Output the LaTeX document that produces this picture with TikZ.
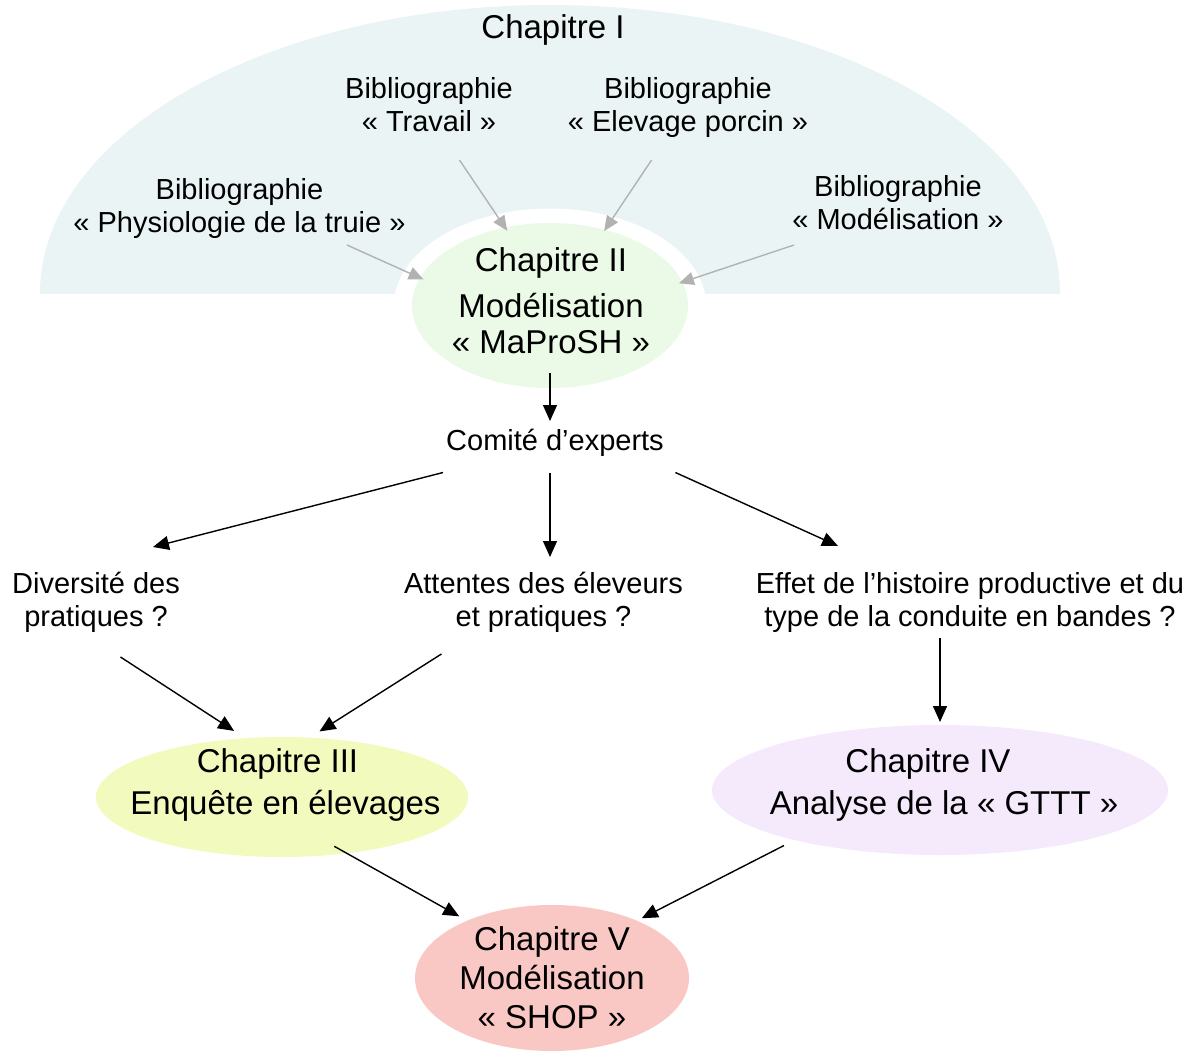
\documentclass[tikz,border=0pt]{standalone}
\usepackage{fontspec}
\setmainfont{Liberation Sans}
\usetikzlibrary{shapes.geometric,arrows.meta}
\definecolor{bgblue}{RGB}{234,244,245}
\definecolor{chgreen}{RGB}{235,250,231}
\definecolor{chyellow}{RGB}{242,250,190}
\definecolor{chpurple}{RGB}{244,234,251}
\definecolor{chpink}{RGB}{250,200,196}
\definecolor{arrowgray}{RGB}{178,178,178}
\tikzset{
  smalltxt/.style={font=\fontsize{29}{33}\selectfont, align=center, inner sep=0pt, outer sep=0pt},
  bigtxt/.style={font=\fontsize{33}{42}\selectfont, align=center, inner sep=0pt, outer sep=0pt},
  chap/.style={ellipse, inner sep=0pt, outer sep=0pt, draw=none},
  garrow/.style={draw=arrowgray, line width=1.4pt, -{Triangle[length=15pt,width=13pt]}},
  barrow/.style={draw=black, line width=1.4pt, -{Triangle[length=16pt,width=14pt]}},
}
\begin{document}
\begin{tikzpicture}[x=1pt,y=-1pt]
\useasboundingbox (0,0) rectangle (1196,1052);
% Chapitre I background
\begin{scope}
  \clip (0,0) rectangle (1196,293);
  \fill[bgblue] (550,293) ellipse [x radius=510, y radius=288];
\end{scope}
\fill[white] (550,305.5) ellipse [x radius=156, y radius=97];
% chapter ellipses
\node[chap, fill=chgreen, minimum width=276pt, minimum height=165pt] (chII) at (550,305.5) {};
\node[chap, fill=chyellow, minimum width=372pt, minimum height=120pt] (chIII) at (282,797) {};
\node[chap, fill=chpurple, minimum width=456pt, minimum height=130pt] (chIV) at (940,790) {};
\node[chap, fill=chpink, minimum width=274pt, minimum height=146pt] (chV) at (552,978) {};
% chapter texts
\node[bigtxt, anchor=base] (chIt) at (553,38) {Chapitre I};
\node[bigtxt, font=\fontsize{33}{36}\selectfont] (chIIt) at (551,301) {Chapitre II\\[10pt]Modélisation\\«~MaProSH~»};
\node[bigtxt] (chIIIt) at (285.5,785) {Chapitre III\hspace*{16pt}\\Enquête en élevages};
\node[bigtxt] (chIVt) at (944,784.5) {Chapitre IV\hspace*{32pt}\\Analyse de la «~GTTT~»};
\node[bigtxt, font=\fontsize{33}{39}\selectfont] (chVt) at (552,977.5) {Chapitre V\\Modélisation\\«~SHOP~»};
% bibliography texts
\node[smalltxt, minimum height=74pt] (bibPhys) at (239.5,208) {Bibliographie\\«~Physiologie de la truie~»};
\node[smalltxt, minimum height=110pt] (bibTrav) at (429,105) {Bibliographie\\«~Travail~»};
\node[smalltxt, minimum height=104pt] (bibElev) at (688,108) {Bibliographie\\«~Elevage porcin~»};
\node[smalltxt, minimum height=84pt, minimum width=220pt] (bibMod) at (898,203) {Bibliographie\\«~Modélisation~»};
% questions
\node[smalltxt, minimum width=250pt, minimum height=60pt] (comite) at (555,442.5) {Comité d’experts};
\node[smalltxt, minimum width=200pt, minimum height=110pt] (div) at (96,602) {Diversité des\\pratiques ?};
\node[smalltxt, minimum height=104pt] (att) at (543.5,602) {Attentes des éleveurs\\et pratiques ?};
\node[smalltxt, minimum height=112pt] (eff) at (970,602) {Effet de l’histoire productive et du\\type de la conduite en bandes ?};
% gray arrows
\draw[garrow, shorten >=-4pt] (bibPhys.341.8) -- (chII.168.6);
\draw[garrow, shorten >=-4pt] (bibTrav.299.4) -- (chII.120);
\draw[garrow, shorten >=-1.5pt] (bibElev.235.3) -- (chII.54.06);
\draw[garrow, shorten >=-3.6pt] (bibMod.202.6) -- (chII.10.8);
% black arrows
\draw[barrow, shorten <=-15pt, shorten >=-8.5pt] (chII.south) -- (chII.south |- comite.north);
\draw[barrow] (comite.195.3) -- (div.44);
\draw[barrow, shorten >=-7pt] (comite.south -| chII) -- (att.north -| chII);
\draw[barrow] (comite.346.1) -- (eff.157);
\draw[barrow, shorten >=13.3pt] (div.294.4) -- (chIII.122.15);
\draw[barrow, shorten >=11.7pt] (att.207.3) -- (chIII.65.4);
\draw[barrow, shorten <=-20pt, shorten >=3pt] (eff.south -| chIV) -- (chIV.north);
\draw[barrow, shorten <=-14.2pt, shorten >=9pt] (chIII.319) -- (chV.146.3);
\draw[barrow, shorten <=12pt, shorten >=5.5pt] (chIV.199) -- (chV.34.7);
\end{tikzpicture}
\end{document}
